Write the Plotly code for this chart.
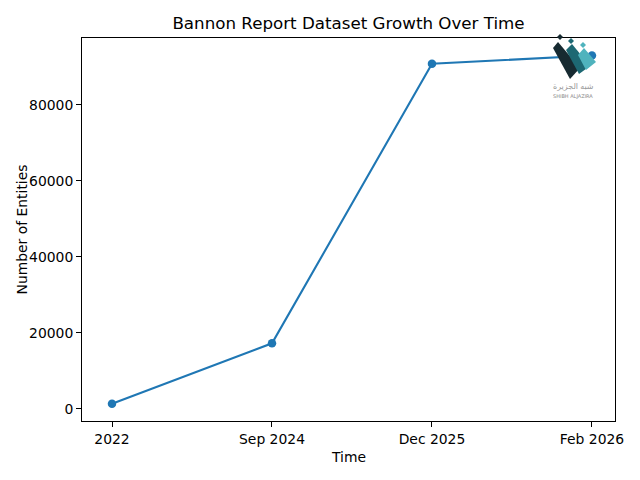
import plotly.graph_objects as go

categories = ["2022", "Sep 2024", "Dec 2025", "Feb 2026"]
entities = [1300, 17200, 90800, 93000]
y_ticks = [0, 20000, 40000, 60000, 80000]

# page has an 8px body margin, so the figure is offset by 8px on screen
OFF = 8
FW, FH = 640 - OFF, 480 - OFF
L, R, T, B = 82, 615, 38, 421  # target screen pixels of plot area
W, H = R - L, B - T


def px(x):
    return (x - L) / W


def py(y):
    return (B - y) / H


def poly(points):
    return "M " + " L ".join(f"{px(x):.5f},{py(y):.5f}" for x, y in points) + " Z"


fig = go.Figure()
fig.add_trace(go.Scatter(
    x=categories, y=entities, mode="lines+markers",
    line=dict(color="#1f77b4", width=2.1),
    marker=dict(color="#1f77b4", size=8.5),
    showlegend=False,
))

font = "DejaVu Sans, sans-serif"
axis_common = dict(
    showline=True, linecolor="black", linewidth=1.1, mirror=True,
    ticks="outside", ticklen=4.9, tickwidth=1.1, tickcolor="black",
    showgrid=False, zeroline=False,
    tickfont=dict(family=font, size=13.9, color="black"),
)

fig.update_layout(
    width=FW, height=FH,
    margin=dict(l=L - OFF, r=FW - (R - OFF), t=T - OFF, b=FH - (B - OFF)),
    paper_bgcolor="white", plot_bgcolor="white",
    title=dict(text="Bannon Report Dataset Growth Over Time",
               x=((L + R) / 2 - OFF) / FW, xanchor="center",
               y=1 - (23 - OFF) / FH, yanchor="middle", yref="container",
               font=dict(family=font, size=16.7, color="black")),
    xaxis=dict(type="category", range=[-0.1875, 3.144], **axis_common),
    yaxis=dict(range=[-3250, 97600], tickvals=y_ticks, tickformat="d", **axis_common),
)

fig.add_annotation(text="Time", xref="paper", yref="paper", x=0.5, y=py(457),
                   showarrow=False, font=dict(family=font, size=13.9, color="black"),
                   xanchor="center", yanchor="middle")
fig.add_annotation(text="Number of Entities", xref="paper", yref="paper", x=px(21), y=0.5,
                   showarrow=False, textangle=-90, font=dict(family=font, size=13.9, color="black"),
                   xanchor="center", yanchor="middle")

# logo approximation
logo = [
    ([(553, 48), (558, 42), (580, 68), (570, 79)], "#172a31"),
    ([(566, 50), (572, 44), (590, 66), (579, 74)], "#1d6873"),
    ([(578, 55), (584, 48), (596, 62), (586, 70)], "#4fb3bd"),
    ([(557, 37), (560, 34), (563, 37), (560, 40)], "#172a31"),
    ([(568, 41), (571, 38), (574, 41), (571, 44)], "#1d6873"),
    ([(580, 45), (583, 42), (586, 45), (583, 48)], "#4fb3bd"),
]
for pts, col in logo:
    fig.add_shape(type="path", path=poly(pts), xref="paper", yref="paper",
                  fillcolor=col, line=dict(width=0), layer="above")

fig.add_annotation(text="شبه الجزيرة", xref="paper", yref="paper", x=px(573), y=py(86),
                   showarrow=False, font=dict(family="Noto Sans, DejaVu Sans", size=8, color="#9a9a9a"),
                   xanchor="center", yanchor="middle")
fig.add_annotation(text="SHIBH ALJAZIRA", xref="paper", yref="paper", x=px(573), y=py(96),
                   showarrow=False, font=dict(family=font, size=5, color="#8a8a8a"),
                   xanchor="center", yanchor="middle")

fig.write_html("out.html")
